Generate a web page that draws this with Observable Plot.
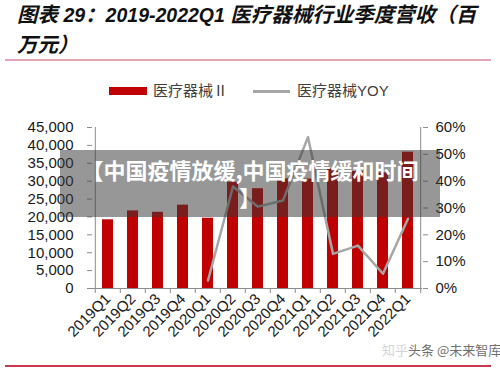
<!DOCTYPE html>
<html><head><meta charset="utf-8">
<script src="https://cdn.jsdelivr.net/npm/d3@7"></script>
<script src="https://cdn.jsdelivr.net/npm/@observablehq/plot@0.6"></script>
<style>
body{margin:0;background:#fff;}
#wrap{position:relative;width:500px;height:368px;overflow:hidden;background:#fff;font-family:"Liberation Sans",Arial,"Noto Sans CJK SC",sans-serif;}
#title{position:absolute;left:17px;top:0;font-size:19.5px;font-weight:bold;font-style:italic;line-height:30px;color:#111;white-space:nowrap;font-family:"Liberation Sans",Arial,"Noto Sans CJK SC",sans-serif;}
#title .c{font-size:20.5px;}
.hr{position:absolute;left:5px;width:486px;}
#legend{position:absolute;left:0;top:0;width:500px;height:110px;font-size:15px;color:#404040;font-family:"Liberation Sans","Noto Sans CJK SC",sans-serif;}
.lg{position:absolute;top:81px;line-height:20px;white-space:nowrap;}
#chart{position:absolute;left:0;top:110px;}
#band{position:absolute;left:60px;top:150px;width:380px;height:67px;background:rgba(55,55,55,0.52);color:#fff;font-family:"Noto Sans CJK SC",sans-serif;font-weight:bold;font-size:22px;line-height:27px;text-align:center;box-sizing:border-box;padding-top:6px;white-space:nowrap;}
.wm{position:absolute;top:341px;font-size:13px;line-height:18px;white-space:nowrap;font-family:"Noto Sans CJK SC",sans-serif;}
</style></head>
<body>
<div id="wrap">
  <div id="title"><span class="c">图表</span> 29<span class="c">：</span>2019-2022Q1 <span class="c">医疗器械行业季度营收（百</span><br><span class="c">万元）</span></div>
  <div class="hr" style="top:59px;height:1.5px;background:#e6a3b3;"></div>
  <div id="legend">
    <div style="position:absolute;left:109px;top:87px;width:38px;height:8px;background:#c00000;"></div>
    <div class="lg" style="left:153px;">医疗器械Ⅱ</div>
    <div style="position:absolute;left:253px;top:90px;width:37px;height:2.5px;background:#a6a6a6;"></div>
    <div class="lg" style="left:297px;">医疗器械YOY</div>
  </div>
  <div id="chart"></div>
  <div id="band">【中国疫情放缓,中国疫情缓和时间<br>】</div>
  <div class="wm" style="left:382px;color:#d4d4d4;">知乎</div>
  <div class="wm" style="left:408px;color:#707070;">头条 @未来智库</div>
  <div class="hr" style="top:365px;height:2px;background:#c8384f;"></div>
</div>
<script>
const quarters = ["2019Q1","2019Q2","2019Q3","2019Q4","2020Q1","2020Q2","2020Q3","2020Q4","2021Q1","2021Q2","2021Q3","2021Q4","2022Q1"];
const revenue = [19200, 21700, 21300, 23300, 19650, 29700, 27900, 30650, 30600, 33500, 32700, 32300, 38100];
const yoy = [null, null, null, null, 3.0, 38.0, 30.5, 32.8, 56.4, 12.9, 16.0, 5.5, 26.0];
const leftTicks = [0, 5000, 10000, 15000, 20000, 25000, 30000, 35000, 40000, 45000];
const rightTicks = [0, 10, 20, 30, 40, 50, 60];

const yMax = 45000, pctMax = 60, k = yMax / pctMax;
const bars = quarters.map((q, i) => ({q, v: revenue[i]}));
const linePts = quarters.map((q, i) => ({q, p: yoy[i]})).filter(d => d.p != null);

const W = 500, mL = 92, mR = 78;
const step = (W - mL - mR) / quarters.length;
const axisGray = "#8c8c8c", txt = "#1a1a1a";
const last = quarters[quarters.length - 1];

const chart = Plot.plot({
  width: W, height: 240,
  marginTop: 17, marginBottom: 62, marginLeft: mL, marginRight: mR,
  style: {fontFamily: "Liberation Sans, Arial, sans-serif", fontSize: "15px", background: "transparent", overflow: "visible"},
  x: {domain: quarters, paddingInner: 0.58, paddingOuter: 0.29, axis: null},
  y: {domain: [0, yMax], axis: null},
  marks: [
    Plot.barY(bars, {x: "q", y: "v", fill: "#c00000"}),
    Plot.line(linePts, {x: "q", y: d => d.p * k, stroke: "#a6a6a6", strokeWidth: 2.5}),
    Plot.ruleY([0], {stroke: axisGray}),
    Plot.ruleX([quarters[0]], {x: d => d, dx: -step / 2, y1: 0, y2: yMax, stroke: axisGray}),
    Plot.ruleX([last], {x: d => d, dx: step / 2, y1: 0, y2: yMax, stroke: axisGray}),
    Plot.axisY(leftTicks, {anchor: "left", label: null, tickSize: 5, tickFormat: () => "", stroke: axisGray}),
    Plot.axisY(leftTicks, {anchor: "left", label: null, tickSize: 0, tickPadding: 19, tickFormat: d3.format(","), fill: txt, fontSize: 15}),
    Plot.axisY(rightTicks.map(t => t * k), {anchor: "right", label: null, tickSize: 5, tickFormat: () => "", stroke: axisGray}),
    Plot.axisY(rightTicks.map(t => t * k), {anchor: "right", label: null, tickSize: 0, tickPadding: 13, tickFormat: d => Math.round(d / k) + "%", fill: txt, fontSize: 15}),
    Plot.axisX(quarters, {label: null, tickSize: 5, tickFormat: () => "", dx: -step / 2, stroke: axisGray}),
    Plot.axisX([last], {label: null, tickSize: 5, tickFormat: () => "", dx: step / 2, stroke: axisGray}),
    Plot.axisX(quarters, {label: null, tickSize: 0, tickRotate: -45, tickPadding: 8, fill: txt, fontSize: 15})
  ]
});
document.getElementById("chart").appendChild(chart);
</script>
</body></html>
